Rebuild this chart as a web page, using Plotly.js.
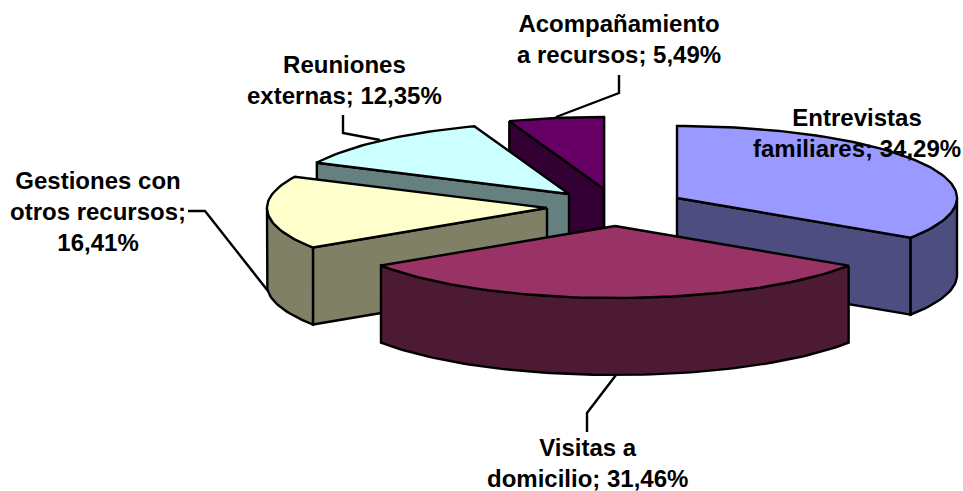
<!DOCTYPE html>
<html>
<head>
<meta charset="utf-8">
<script src="https://cdn.plot.ly/plotly-3.0.1.min.js"></script>
<style>html,body{margin:0;padding:0;background:#fff}#chart{width:963px;height:491px}</style>
</head>
<body>
<div id="chart"></div>
<script>
// Data, clockwise from 12 o'clock
const categories = ['Entrevistas familiares', 'Visitas a domicilio', 'Gestiones con otros recursos', 'Reuniones externas', 'Acompañamiento a recursos'];
const values = [34.29, 31.46, 16.41, 12.35, 5.49];
const labelLines = [
  ['Entrevistas', 'familiares; 34,29%'],
  ['Visitas a', 'domicilio; 31,46%'],
  ['Gestiones con', 'otros recursos;', '16,41%'],
  ['Reuniones', 'externas; 12,35%'],
  ['Acompañamiento', 'a recursos; 5,49%']
];
const topColors = ['#9999FF', '#993366', '#FFFFCC', '#CCFFFF', '#660066'];
const sideColors = ['#4D4D80', '#4D1A33', '#808066', '#668080', '#330033'];

// Projection of the exploded pie
const radiusX = 280, radiusY = 72, depth = 77;
const sliceCentres = [[677, 198], [615, 226], [547, 208], [569, 194], [604, 189]];
const labelCentres = [[857, 133], [587, 463], [98, 211], [344, 80], [619, 39]];
const leaders = [
  null,
  [[587, 432], [587, 413], [616, 375]],
  [[188, 211], [205, 211], [268, 291]],
  [[343, 115], [343, 133], [380, 140]],
  [[619, 75], [619, 93], [556, 117]]
];
const drawOrder = [4, 3, 2, 0, 1];

const total = values.reduce((a, b) => a + b, 0);
const pt = (c, deg, dy) => {
  const r = deg * Math.PI / 180;
  return [c[0] + radiusX * Math.sin(r), c[1] - radiusY * Math.cos(r) + (dy || 0)];
};
const arc = (c, a0, a1, dy) => {
  const n = Math.max(2, Math.ceil(Math.abs(a1 - a0) / 1.5));
  const out = [];
  for (let i = 0; i <= n; i++) out.push(pt(c, a0 + (a1 - a0) * i / n, dy));
  return out;
};
const poly = (pts, fill) => ({
  type: 'scatter', mode: 'lines', hoverinfo: 'skip', showlegend: false,
  x: pts.map(p => p[0]), y: pts.map(p => p[1]),
  fill: fill ? 'toself' : 'none', fillcolor: fill || undefined,
  line: { color: '#000', width: 2.4, shape: 'linear' }
});

const bounds = [];
let acc = 0;
values.forEach(v => { bounds.push([acc, acc + v / total * 360]); acc += v / total * 360; });

const traces = [];
leaders.forEach(l => { if (l) traces.push(poly(l, null)); });

drawOrder.forEach(i => {
  const c = sliceCentres[i], [a0, a1] = bounds[i];
  const s = sideColors[i];
  const cut = deg => {
    const e = pt(c, deg);
    return [c, e, [e[0], e[1] + depth], [c[0], c[1] + depth], c];
  };
  // walls of the radial cuts facing the viewer
  if (Math.sin(a0 * Math.PI / 180) < 0) traces.push(poly(cut(a0), s));
  if (Math.sin(a1 * Math.PI / 180) > 0) traces.push(poly(cut(a1), s));
  // outer rim wall: only the front half of the ellipse is visible
  const r0 = Math.max(a0, 90), r1 = Math.min(a1, 270);
  if (r1 > r0) {
    const upper = arc(c, r0, r1), lower = arc(c, r1, r0, depth);
    traces.push(poly(upper.concat(lower, [upper[0]]), s));
  }
  // top face
  const topPts = [c].concat(arc(c, a0, a1), [c]);
  traces.push(poly(topPts, topColors[i]));
});

const annotations = labelLines.map((lines, i) => ({
  x: labelCentres[i][0], y: labelCentres[i][1], xref: 'x', yref: 'y',
  text: lines.map(t => '<b>' + t + '</b>').join('<br>'), showarrow: false, align: 'center',
  xanchor: 'center', yanchor: 'middle',
  font: { family: '"Liberation Sans", Arial, sans-serif', size: 24, color: '#000' }
}));

Plotly.newPlot('chart', traces, {
  width: 963, height: 491,
  margin: { l: 0, r: 0, t: 0, b: 0 },
  paper_bgcolor: '#fff', plot_bgcolor: '#fff', showlegend: false,
  xaxis: { range: [0, 963], visible: false, fixedrange: true },
  yaxis: { range: [491, 0], visible: false, fixedrange: true },
  annotations
}, { displayModeBar: false, staticPlot: true });
</script>
</body>
</html>
